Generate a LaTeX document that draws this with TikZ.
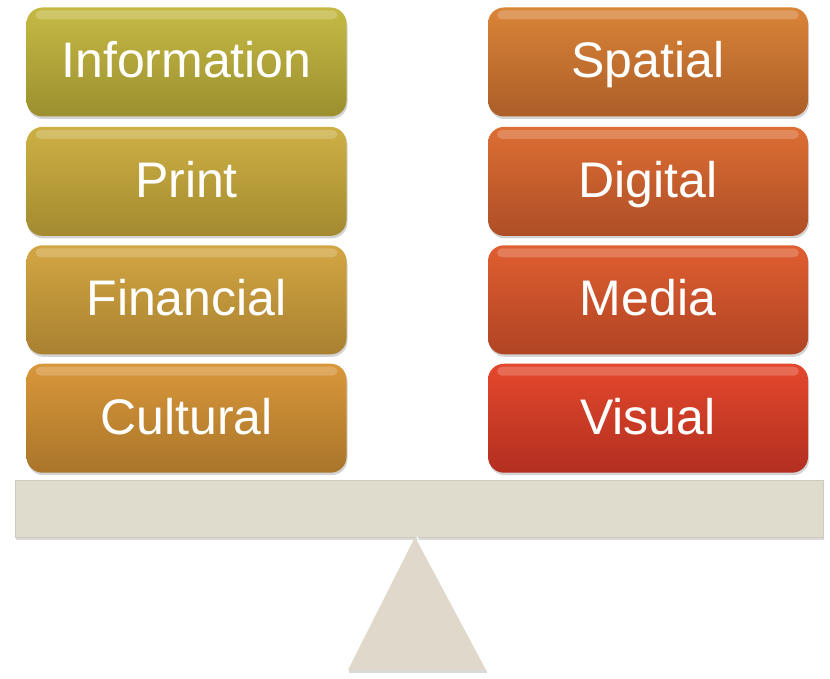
\documentclass[tikz,border=0pt]{standalone}
\usepackage{fontspec}
\setmainfont{Liberation Sans}
\usetikzlibrary{positioning,shadows}
\definecolor{infoT}{HTML}{C6BA45}
\definecolor{infoB}{HTML}{9B8F2F}
\definecolor{printT}{HTML}{CDB044}
\definecolor{printB}{HTML}{A48A30}
\definecolor{finT}{HTML}{D3A643}
\definecolor{finB}{HTML}{A98130}
\definecolor{cultT}{HTML}{D9973A}
\definecolor{cultB}{HTML}{A9752A}
\definecolor{spatT}{HTML}{DA8438}
\definecolor{spatB}{HTML}{AC5E28}
\definecolor{digT}{HTML}{DD6E34}
\definecolor{digB}{HTML}{AE4E26}
\definecolor{medT}{HTML}{E05E30}
\definecolor{medB}{HTML}{B04424}
\definecolor{visT}{HTML}{E4482C}
\definecolor{visB}{HTML}{B22F20}
\definecolor{beamC}{HTML}{DFDCCE}
\definecolor{standC}{HTML}{E0D9CB}
\tikzset{
  pill/.style={rounded corners=16pt, minimum width=320pt, minimum height=109pt,
    text=white, font=\fontsize{50}{60}\selectfont, text height=37pt, text depth=5pt,
    drop shadow={shadow xshift=1pt, shadow yshift=-2.5pt, opacity=0.35},
    path picture={\fill[white, opacity=0.2, rounded corners=5pt]
      ([xshift=9pt,yshift=-3pt]path picture bounding box.north west) rectangle
      ([xshift=-9pt,yshift=-12pt]path picture bounding box.north east);}},
  beam/.style={fill=beamC, draw=beamC!92!black, line width=0.4pt,
    minimum width=808pt, minimum height=57pt,
    drop shadow={shadow xshift=1pt, shadow yshift=-3pt, opacity=0.3}}
}
\begin{document}
\begin{tikzpicture}[x=1pt,y=-1pt]
    \useasboundingbox (0,0) rectangle (830,679);
    % left stack
    \node[pill, top color=infoT, bottom color=infoB] (info) at (186.5,62) {Information};
    \node[pill, top color=printT, bottom color=printB, below=10pt of info] (print) {Print};
    \node[pill, top color=finT, bottom color=finB, below=9pt of print] (fin) {Financial};
    \node[pill, top color=cultT, bottom color=cultB, below=9pt of fin] (cult) {Cultural};
    % right stack
    \node[pill, top color=spatT, bottom color=spatB] (spat) at (648,62) {Spatial};
    \node[pill, top color=digT, bottom color=digB, below=10pt of spat] (dig) {Digital};
    \node[pill, top color=medT, bottom color=medB, below=9pt of dig] (med) {Media};
    \node[pill, top color=visT, bottom color=visB, below=9pt of med] (vis) {Visual};
    % balance
    \node[beam] (beam) at (419,508.5) {};
    \coordinate (apex) at (415,537);
    \coordinate (baseL) at (348,670);
    \coordinate (baseR) at (486,670);
    \fill[black, opacity=0.15] ([xshift=1pt,yshift=-3pt]baseL) rectangle ([xshift=1pt,yshift=0pt]baseR);
    \fill[standC] (apex) -- (baseL) -- (baseR) -- cycle;
    \draw[white, line width=1.2pt] ([xshift=2pt]apex) -- ([xshift=2pt]baseR);
\end{tikzpicture}
\end{document}
